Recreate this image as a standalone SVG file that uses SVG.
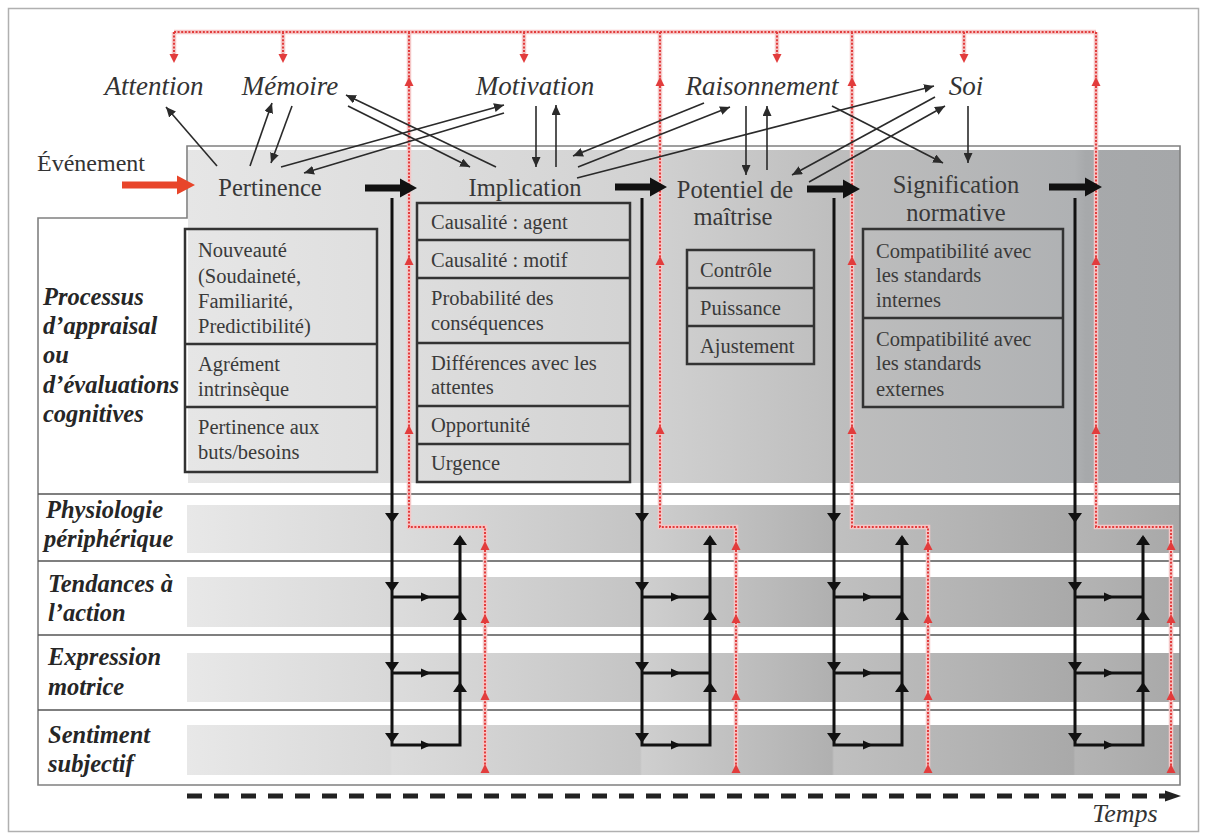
<svg xmlns="http://www.w3.org/2000/svg" width="1207" height="839" viewBox="0 0 1207 839">
<defs>
<linearGradient id="gPanel" gradientUnits="userSpaceOnUse" x1="187" y1="0" x2="1180" y2="0">
<stop offset="0" stop-color="#e6e6e6"/>
<stop offset="0.21" stop-color="#dedede"/>
<stop offset="0.458" stop-color="#d2d2d2"/>
<stop offset="0.652" stop-color="#bebebe"/>
<stop offset="0.894" stop-color="#afb1b3"/>
<stop offset="0.905" stop-color="#a7a9ab"/>
<stop offset="1" stop-color="#a5a7a9"/>
</linearGradient>
<linearGradient id="gRow" gradientUnits="userSpaceOnUse" x1="187" y1="0" x2="1180" y2="0">
<stop offset="0" stop-color="#e8e8e8"/>
<stop offset="0.2044" stop-color="#d8d8d8"/>
<stop offset="0.2064" stop-color="#dcdcdc"/>
<stop offset="0.4562" stop-color="#c4c4c4"/>
<stop offset="0.4582" stop-color="#cfcfcf"/>
<stop offset="0.6495" stop-color="#b0b0b0"/>
<stop offset="0.6516" stop-color="#c0c0c0"/>
<stop offset="0.8925" stop-color="#a9a9a9"/>
<stop offset="0.8945" stop-color="#b4b4b4"/>
<stop offset="1" stop-color="#a8a8a8"/>
</linearGradient>
<marker id="ah" markerUnits="userSpaceOnUse" markerWidth="11" markerHeight="9" refX="10" refY="4.5" orient="auto">
<path d="M0,0 L10,4.5 L0,9 Z" fill="#2a2a2a"/>
</marker>
<path id="rUp" d="M-4.5,9 L0,0 L4.5,9 Z" fill="#e23c3c"/>
<path id="rDown" d="M-4.5,-9 L0,0 L4.5,-9 Z" fill="#e23c3c"/>
<path id="bDown" d="M-7,-10 L7,-10 L0,0 Z" fill="#111"/>
<path id="bUp" d="M-7,10 L7,10 L0,0 Z" fill="#111"/>
<path id="bRight" d="M-5,-4.5 L5,0 L-5,4.5 Z" fill="#111"/>
<g id="flow">
<path d="M0,198 V745 H68 V537" fill="none" stroke="#111" stroke-width="3"/>
<path d="M0,597 H68 M0,673 H68" fill="none" stroke="#111" stroke-width="3"/>
<use href="#bDown" x="0" y="523"/>
<use href="#bDown" x="0" y="592"/>
<use href="#bDown" x="0" y="672"/>
<use href="#bDown" x="0" y="743"/>
<use href="#bUp" x="68" y="535"/>
<use href="#bUp" x="68" y="610"/>
<use href="#bUp" x="68" y="682"/>
<use href="#bRight" x="34" y="597"/>
<use href="#bRight" x="34" y="673"/>
<use href="#bRight" x="34" y="745"/>
</g>
</defs>
<style>
.cog{font-style:italic;font-size:27px;fill:#333;text-anchor:middle}
.stg{font-size:24.5px;fill:#383838;text-anchor:middle}
.box{font-size:20.5px;fill:#3a3a3a}
.row{font-style:italic;font-weight:bold;font-size:24.5px;fill:#262626}
.bx{fill:none;stroke:#333;stroke-width:2.5}
.thin{fill:none;stroke:#2a2a2a;stroke-width:1.6;marker-end:url(#ah)}
.halo{fill:none;stroke:#f5c6c6;stroke-width:4.5}
.red{fill:none;stroke:#e23c3c;stroke-width:2;stroke-dasharray:2 1.6}
.thick{fill:#111}
</style>

<rect x="8.5" y="8.5" width="1190" height="823" fill="#fff" stroke="#b0b0b0" stroke-width="1.5"/>

<g id="background">
<rect x="188" y="150" width="992" height="333" fill="url(#gPanel)"/>
<rect x="187" y="505" width="993" height="48" fill="url(#gRow)"/>
<rect x="187" y="577" width="993" height="50" fill="url(#gRow)"/>
<rect x="187" y="653" width="993" height="49" fill="url(#gRow)"/>
<rect x="187" y="725" width="993" height="50" fill="url(#gRow)"/>
<path d="M187,146 H1180 V785 H38 V218 H187 Z" fill="none" stroke="#808080" stroke-width="1.6"/>
<path d="M38,494 H1180 M38,561 H1180 M38,635 H1180 M38,710 H1180" fill="none" stroke="#555" stroke-width="1.6"/>
</g>

<g font-family="Liberation Serif, Times New Roman, DejaVu Serif, serif">
<g id="row-labels">
<g id="lab-appraisal">
<text class="row" x="43" y="305">Processus</text>
<text class="row" x="43" y="334">d’appraisal</text>
<text class="row" x="43" y="363">ou</text>
<text class="row" x="43" y="393">d’évaluations</text>
<text class="row" x="43" y="422">cognitives</text>
</g>
<g id="lab-physio">
<text class="row" x="46" y="518">Physiologie</text>
<text class="row" x="44" y="547">périphérique</text>
</g>
<g id="lab-tendances">
<text class="row" x="48" y="592">Tendances à</text>
<text class="row" x="48" y="621">l’action</text>
</g>
<g id="lab-expression">
<text class="row" x="48" y="665">Expression</text>
<text class="row" x="48" y="695">motrice</text>
</g>
<g id="lab-sentiment">
<text class="row" x="48" y="743">Sentiment</text>
<text class="row" x="48" y="772">subjectif</text>
</g>
</g>

<g id="box-pertinence">
<rect class="bx" x="185" y="229" width="192" height="243"/>
<path class="bx" d="M185,344 H377 M185,407 H377"/>
<text class="box" x="198" y="257">Nouveauté</text>
<text class="box" x="198" y="283">(Soudaineté,</text>
<text class="box" x="198" y="308">Familiarité,</text>
<text class="box" x="198" y="333">Predictibilité)</text>
<text class="box" x="198" y="371">Agrément</text>
<text class="box" x="198" y="396">intrinsèque</text>
<text class="box" x="198" y="434">Pertinence aux</text>
<text class="box" x="198" y="459">buts/besoins</text>
</g>

<g id="box-implication">
<rect class="bx" x="417" y="203" width="213" height="279"/>
<path class="bx" d="M417,240 H630 M417,278 H630 M417,343 H630 M417,406 H630 M417,444 H630"/>
<text class="box" x="431" y="229">Causalité : agent</text>
<text class="box" x="431" y="267">Causalité : motif</text>
<text class="box" x="431" y="305">Probabilité des</text>
<text class="box" x="431" y="330">conséquences</text>
<text class="box" x="431" y="370">Différences avec les</text>
<text class="box" x="431" y="394">attentes</text>
<text class="box" x="431" y="432">Opportunité</text>
<text class="box" x="431" y="470">Urgence</text>
</g>

<g id="box-potentiel">
<rect class="bx" x="687" y="250" width="127" height="114"/>
<path class="bx" d="M687,288 H814 M687,326 H814"/>
<text class="box" x="700" y="277">Contrôle</text>
<text class="box" x="700" y="315">Puissance</text>
<text class="box" x="700" y="353">Ajustement</text>
</g>

<g id="box-signification">
<rect class="bx" x="863" y="229" width="200" height="178"/>
<path class="bx" d="M863,318 H1063"/>
<text class="box" x="876" y="258">Compatibilité avec</text>
<text class="box" x="876" y="282">les standards</text>
<text class="box" x="876" y="307">internes</text>
<text class="box" x="876" y="346">Compatibilité avec</text>
<text class="box" x="876" y="370">les standards</text>
<text class="box" x="876" y="396">externes</text>
</g>
</g>

<g id="connectors">
<g id="red-feedback">
<path class="halo" d="M174,32 H1096 M409,32 V527 H485 V773 M660,32 V527 H736 V773 M852,32 V527 H928 V773 M1096,32 V527 H1171 V773 M174,32 V55 M283,32 V55 M524,32 V55 M777,32 V55 M964,32 V55"/>
<path class="red" d="M174,32 H1096 M409,32 V527 H485 V773 M660,32 V527 H736 V773 M852,32 V527 H928 V773 M1096,32 V527 H1171 V773 M174,32 V55 M283,32 V55 M524,32 V55 M777,32 V55 M964,32 V55"/>
<use href="#rDown" x="174" y="63"/>
<use href="#rDown" x="283" y="63"/>
<use href="#rDown" x="524" y="63"/>
<use href="#rDown" x="777" y="63"/>
<use href="#rDown" x="964" y="63"/>
<use href="#rUp" x="409" y="77"/><use href="#rUp" x="409" y="256"/><use href="#rUp" x="409" y="425"/>
<use href="#rUp" x="660" y="77"/><use href="#rUp" x="660" y="256"/><use href="#rUp" x="660" y="425"/>
<use href="#rUp" x="852" y="77"/><use href="#rUp" x="852" y="256"/><use href="#rUp" x="852" y="425"/>
<use href="#rUp" x="1096" y="77"/><use href="#rUp" x="1096" y="256"/><use href="#rUp" x="1096" y="425"/>
<use href="#rUp" x="485" y="541"/><use href="#rUp" x="485" y="614"/><use href="#rUp" x="485" y="691"/><use href="#rUp" x="485" y="764"/>
<use href="#rUp" x="736" y="541"/><use href="#rUp" x="736" y="614"/><use href="#rUp" x="736" y="691"/><use href="#rUp" x="736" y="764"/>
<use href="#rUp" x="928" y="541"/><use href="#rUp" x="928" y="614"/><use href="#rUp" x="928" y="691"/><use href="#rUp" x="928" y="764"/>
<use href="#rUp" x="1171" y="541"/><use href="#rUp" x="1171" y="614"/><use href="#rUp" x="1171" y="691"/><use href="#rUp" x="1171" y="764"/>
</g>

<g id="flows">
<use href="#flow" x="392" y="0"/>
<use href="#flow" x="642" y="0"/>
<use href="#flow" x="834" y="0"/>
<use href="#flow" x="1075" y="0"/>
</g>

<g id="stage-arrows">
<polygon fill="#e8452a" points="122,181.5 177,181.5 177,175.5 195,185 177,194.5 177,188.5 122,188.5"/>
<polygon class="thick" points="365,184.5 400,184.5 400,178.5 417,188 400,197.5 400,191.5 365,191.5"/>
<polygon class="thick" points="615,183.5 650,183.5 650,177.5 667,187 650,196.5 650,190.5 615,190.5"/>
<polygon class="thick" points="807,185.5 843,185.5 843,179.5 860,189 843,198.5 843,192.5 807,192.5"/>
<polygon class="thick" points="1049,183.5 1085,183.5 1085,177.5 1102,187 1085,196.5 1085,190.5 1049,190.5"/>
</g>

<g id="cognitive-links">
<line class="thin" x1="217" y1="166" x2="166" y2="107"/>
<line class="thin" x1="250" y1="166" x2="272" y2="103"/>
<line class="thin" x1="292" y1="106" x2="271" y2="163"/>
<line class="thin" x1="281" y1="167" x2="504" y2="105"/>
<line class="thin" x1="504" y1="113" x2="304" y2="173"/>
<line class="thin" x1="496" y1="167" x2="346" y2="95"/>
<line class="thin" x1="348" y1="106" x2="470" y2="167"/>
<line class="thin" x1="536" y1="106" x2="536" y2="167"/>
<line class="thin" x1="556" y1="167" x2="556" y2="105"/>
<line class="thin" x1="704" y1="103" x2="573" y2="156"/>
<line class="thin" x1="578" y1="167" x2="730" y2="107"/>
<line class="thin" x1="577" y1="178" x2="934" y2="86"/>
<line class="thin" x1="746" y1="106" x2="746" y2="175"/>
<line class="thin" x1="767" y1="170" x2="767" y2="106"/>
<line class="thin" x1="935" y1="97" x2="792" y2="175"/>
<line class="thin" x1="809" y1="182" x2="945" y2="106"/>
<line class="thin" x1="832" y1="106" x2="943" y2="163"/>
<line class="thin" x1="968" y1="106" x2="968" y2="163"/>
</g>

<g id="time-axis">
<line x1="187" y1="796" x2="1166" y2="796" stroke="#222" stroke-width="5" stroke-dasharray="15 12"/>
<polygon points="1165,790.5 1181,796 1165,801.5" fill="#222"/>
</g>
</g>

<g font-family="Liberation Serif, Times New Roman, DejaVu Serif, serif">
<g id="event"><text x="37" y="171" font-size="24" fill="#333">Événement</text></g>

<g id="cog-attention"><text class="cog" x="154" y="95">Attention</text></g>
<g id="cog-memoire"><text class="cog" x="290" y="95">Mémoire</text></g>
<g id="cog-motivation"><text class="cog" x="535" y="95">Motivation</text></g>
<g id="cog-raisonnement"><text class="cog" x="762" y="95">Raisonnement</text></g>
<g id="cog-soi"><text class="cog" x="966" y="95">Soi</text></g>

<g id="stage-pertinence"><text class="stg" x="270" y="196">Pertinence</text></g>
<g id="stage-implication"><text class="stg" x="525" y="196">Implication</text></g>
<g id="stage-potentiel"><text class="stg" x="735" y="198">Potentiel de</text><text class="stg" x="733" y="225">maîtrise</text></g>
<g id="stage-signification"><text class="stg" x="956" y="193">Signification</text><text class="stg" x="956" y="221">normative</text></g>

<g id="temps"><text x="1125" y="822" font-size="26" font-style="italic" text-anchor="middle" fill="#333">Temps</text></g>
</g>
</svg>
